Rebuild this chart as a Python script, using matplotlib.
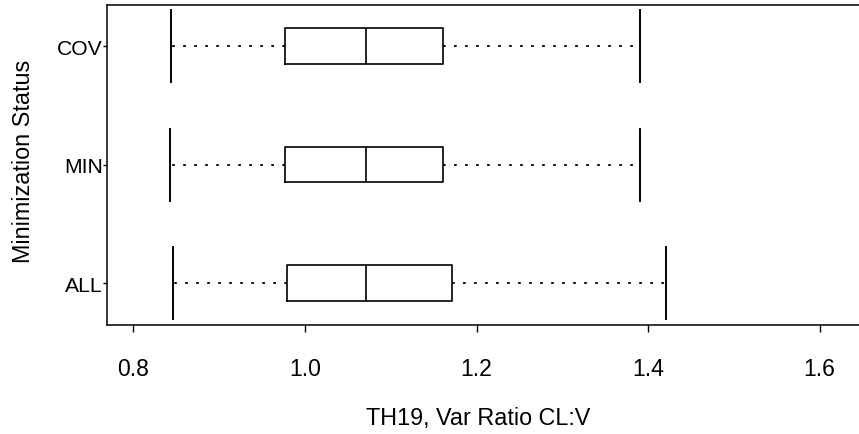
import matplotlib
matplotlib.use("Agg")
import matplotlib.pyplot as plt

# box summaries per minimization status (bottom to top)
groups = ['ALL', 'MIN', 'COV']
whis_lo = [0.846, 0.843, 0.844]
q1 = [0.979, 0.977, 0.977]
median = [1.071, 1.071, 1.071]
q3 = [1.171, 1.161, 1.161]
whis_hi = [1.421, 1.391, 1.391]

x_ticks = [0.8, 1.0, 1.2, 1.4, 1.6]
x_tick_labels = ['0.8', '1.0', '1.2', '1.4', '1.6']


def main():
    plt.rcParams['font.family'] = ['Liberation Sans', 'DejaVu Sans']

    fig = plt.figure(figsize=(8.59, 4.35), dpi=100)
    # axes run past the right edge of the figure, as in the original crop
    ax = fig.add_axes([107 / 859, 109.3 / 435, 798.3 / 859, 320 / 435])

    stats = []
    for i in range(len(groups)):
        stats.append(dict(label=groups[i], whislo=whis_lo[i], q1=q1[i],
                          med=median[i], q3=q3[i], whishi=whis_hi[i]))

    positions = list(range(1, len(groups) + 1))
    ax.bxp(stats, positions=positions, orientation='horizontal',
           widths=0.30, capwidths=0.61, showfliers=False,
           boxprops=dict(color='black', linewidth=1.2),
           medianprops=dict(color='black', linewidth=1.2),
           whiskerprops=dict(color='black', linewidth=1.3,
                             linestyle=(0, (1.5, 4.6))),
           capprops=dict(color='black', linewidth=1.4),
           manage_ticks=False)

    ax.set_xlim(0.7691, 1.7)
    ax.set_ylim(0.65, 3.35)

    ax.set_xticks(x_ticks)
    ax.set_xticklabels(x_tick_labels, fontsize=16.6)
    ax.set_yticks(positions)
    ax.set_yticklabels(groups, fontsize=15.2)
    ax.tick_params(axis='x', length=5, width=1.0, pad=18.5)
    ax.tick_params(axis='y', length=2.9, width=1.0, pad=0)

    for s in ax.spines.values():
        s.set_linewidth(1.1)

    ax.set_xlabel('TH19, Var Ratio CL:V', fontsize=16.8)
    ax.xaxis.set_label_coords((478 - 107) / 798.3, -(406.5 - 325.7) / 320)
    ax.set_ylabel('Minimization Status', fontsize=16.8)
    ax.yaxis.label.set_verticalalignment('center')
    ax.yaxis.set_label_coords(-(107 - 24) / 798.3, (325.7 - 161.5) / 320)

    fig.savefig('out.png', dpi=100)


if __name__ == '__main__':
    main()
